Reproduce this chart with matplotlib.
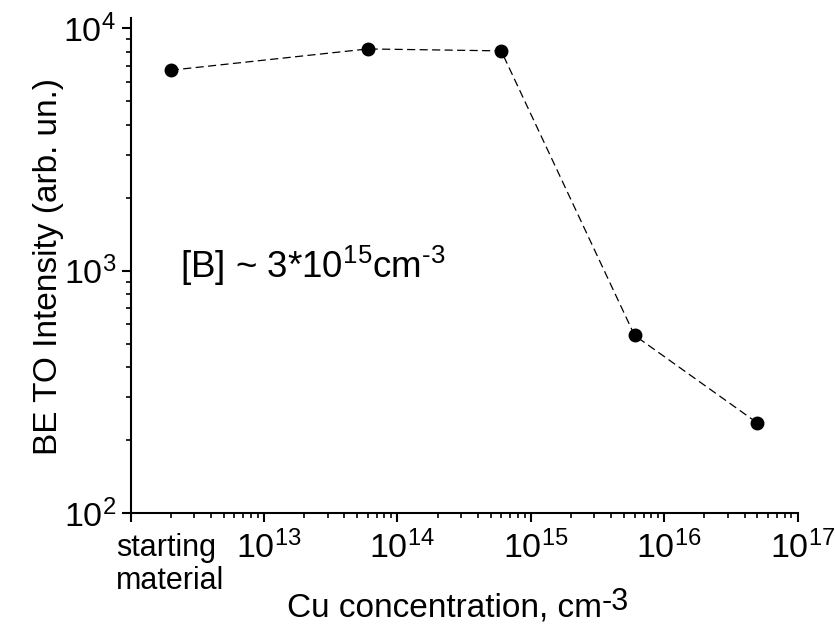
import matplotlib
matplotlib.use("Agg")
import matplotlib.pyplot as plt
import matplotlib.transforms as mtransforms
from matplotlib.ticker import LogLocator, FixedLocator, NullFormatter

plt.rcParams['font.family'] = ['Liberation Sans', 'DejaVu Sans']
plt.rcParams['mathtext.fontset'] = 'custom'
plt.rcParams['mathtext.rm'] = 'Liberation Sans'
plt.rcParams['mathtext.it'] = 'Liberation Sans'

cu_conc = [2e12, 6e13, 6e14, 6e15, 5e16]
intensity = [6700, 8200, 8050, 540, 235]
xtick_vals = [1e12, 1e13, 1e14, 1e15, 1e16, 1e17]
xtick_labels = ['', r'$\mathregular{10^{13}}$', r'$\mathregular{10^{14}}$',
                r'$\mathregular{10^{15}}$', r'$\mathregular{10^{16}}$', r'$\mathregular{10^{17}}$']
first_label = 'starting\nmaterial'
ytick_vals = [1e2, 1e3, 1e4]
ytick_labels = [r'$\mathregular{10^{2}}$', r'$\mathregular{10^{3}}$', r'$\mathregular{10^{4}}$']

fig = plt.figure(figsize=(8.35, 6.25), dpi=100)
ax = fig.add_axes([0.1564, 0.1792, 0.7988, 0.792])
ax.plot(cu_conc, intensity, color='black', linestyle=(0, (6.5, 3.5)), linewidth=0.9,
        marker='o', markersize=9.0, markerfacecolor='black', markeredgecolor='black')
ax.set_xscale('log')
ax.set_yscale('log')
ax.set_xlim(1e12, 1e17)
ax.set_ylim(1e2, 1.1e4)

for s in ['top', 'right']:
    ax.spines[s].set_visible(False)
for s in ['left', 'bottom']:
    ax.spines[s].set_linewidth(1.5)

ax.xaxis.set_major_locator(FixedLocator(xtick_vals))
ax.set_xticklabels(xtick_labels)
ax.xaxis.set_minor_locator(LogLocator(base=10, subs=range(2, 10), numticks=20))
ax.xaxis.set_minor_formatter(NullFormatter())
ax.yaxis.set_major_locator(FixedLocator(ytick_vals))
ax.set_yticklabels(ytick_labels)
ax.yaxis.set_minor_locator(LogLocator(base=10, subs=range(2, 10), numticks=20))
ax.yaxis.set_minor_formatter(NullFormatter())

ax.tick_params(which='major', direction='out', length=6.5, width=1.5, labelsize=24.5)
ax.tick_params(axis='x', which='major', pad=6)
ax.tick_params(axis='y', which='major', pad=4)
ax.tick_params(which='minor', direction='out', length=3.6, width=1.2)

shift = mtransforms.ScaledTranslation(5 / 100, 0, fig.dpi_scale_trans)
for lbl in ax.get_xticklabels():
    lbl.set_transform(lbl.get_transform() + shift)

ax.text(-0.0219, -0.1545, first_label, transform=ax.transAxes, fontsize=22,
        ha='left', va='baseline', linespacing=1.15)

xl = ax.set_xlabel('Cu concentration, cm', fontsize=24)
xl.set_ha('left')
xl.set_va('baseline')
ax.xaxis.set_label_coords(0.235, -0.210)
ax.annotate('-3', xy=(1.0, 0.0), xycoords=xl, xytext=(-0.5, 10),
            textcoords='offset points', fontsize=22, ha='left', va='baseline')

ax.set_ylabel('BE TO Intensity (arb. un.)', fontsize=24)
ax.yaxis.set_label_coords(-0.10, 0.497)
ax.text(0.074, 0.475, r'[B] ~ 3*10$\mathregular{^{15}}$cm$\mathregular{^{\text{-}3}}$',
        transform=ax.transAxes, fontsize=26.5, va='baseline', ha='left')

fig.savefig('out.png', dpi=100)
